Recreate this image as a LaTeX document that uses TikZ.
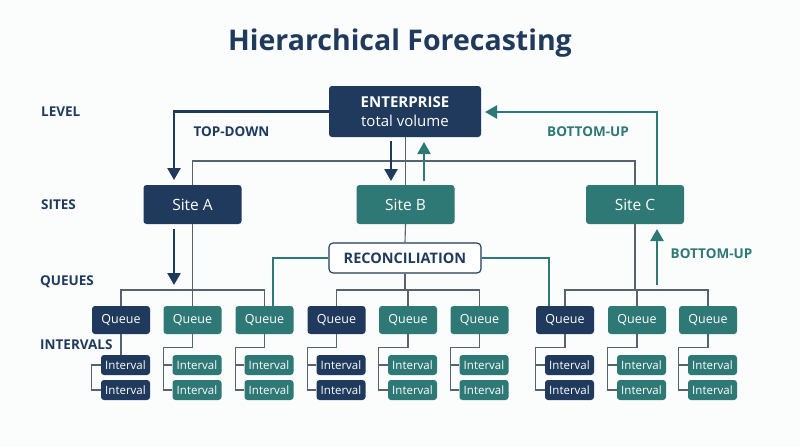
\documentclass[tikz,border=0pt]{standalone}
\usepackage{fontspec}
\setmainfont{Open Sans}
\usetikzlibrary{arrows.meta,calc}
\definecolor{navy}{HTML}{1F3A5C}
\definecolor{teal}{HTML}{2E7876}
\definecolor{wire}{HTML}{56636F}
\definecolor{bg}{HTML}{FBFCFC}
\tikzset{
  box/.style={rounded corners=3pt, text=white, inner sep=0pt, align=center},
  navybox/.style={box, fill=navy},
  tealbox/.style={box, fill=teal},
  sitebox/.style={minimum width=98pt, minimum height=39pt, font=\fontsize{15.5}{17}\selectfont},
  queuebox/.style={minimum width=58pt, minimum height=28pt, font=\fontsize{12.5}{14}\selectfont},
  intbox/.style={minimum width=49pt, minimum height=20pt, font=\fontsize{11.5}{13}\selectfont},
  lvl/.style={anchor=west, inner sep=0pt, text=navy, font=\bfseries\fontsize{13.5}{16}\selectfont},
  dirlabel/.style={font=\bfseries\fontsize{13.5}{16}\selectfont},
  wireline/.style={draw=wire, line width=1.1pt},
  bigarrow/.style={line width=2.4pt, -{Triangle[width=13pt,length=12pt]}},
}
\begin{document}
\begin{tikzpicture}[x=1pt,y=-1pt]
\fill[bg] (0,0) rectangle (800,447);
\useasboundingbox (0,0) rectangle (800,447);

\node[text=navy, font=\bfseries\fontsize{28.5}{34}\selectfont] (title) at (400,43) {Hierarchical Forecasting};

\node[lvl] (lLevel) at (41,112) {LEVEL};
\node[lvl] (lSites) at (41,205) {SITES};
\node[lvl] (lQueues) at (40,282) {QUEUES};
\node[lvl] (lInt) at (40,345) {INTERVALS};

% main nodes
\node[navybox, minimum width=152pt, minimum height=51pt, font=\fontsize{15}{19}\selectfont] (ent) at (405,111.5)
  {\textbf{ENTERPRISE}\\total volume};
\node[navybox, sitebox] (sA) at (192.5,204.5) {Site A};
\node[tealbox, sitebox] (sB) at (405.5,204.5) {Site B};
\node[tealbox, sitebox] (sC) at (635,204.5) {Site C};
\node[draw=navy, line width=1.1pt, fill=white, rounded corners=4pt, minimum width=152pt, minimum height=30pt, text=navy,
  font=\bfseries\fontsize{14.5}{17}\selectfont] (rec) at (405,258) {RECONCILIATION};

% queues and intervals
\foreach \i/\x/\c in {1/121/navy,2/192.5/teal,3/264.5/teal,4/336.5/navy,5/408/teal,6/479.5/teal,7/565/navy,8/637/teal,9/708/teal}{
  \node[box, fill=\c, queuebox] (q\i) at (\x,320) {Queue};
  \node[box, fill=\c, intbox] (i\i a) at (\x+4.5,365) {Interval};
  \node[box, fill=\c, intbox] (i\i b) at (\x+4.5,390) {Interval};
}

% interval connectors
\draw[wireline] (q1.south) -- (q1.south |- i1a.north);
\draw[wireline] (i1a.west) -- ++(-9,0) |- (i1b.west);
\foreach \i in {2,...,9}{
  \coordinate (b\i) at ($(q\i.south west)+(0,13)$);
  \draw[wireline] (q\i.south) |- (b\i) |- (i\i b.west);
  \draw[wireline] (b\i |- i\i a.west) -- (i\i a.west);
}

% site tree
\coordinate (hub) at (405.5,161);
\draw[wireline] (ent.south -| hub) -- (sB.north);
\draw[wireline] (sA.north) |- (hub) -| (sC.north);

% queue trees
\coordinate (ya) at (0,290);
\draw[wireline] (sA.south) -- (sA.south |- ya);
\draw[wireline] (q1.north) |- (sA.south |- ya) -| (q3.north);
\draw[wireline] (q2.north) -- (q2.north |- ya);
\draw[wireline] (sB.south) -- (rec.north);
\draw[wireline] (rec.south) -- (rec.south |- ya);
\draw[wireline] (q4.north) |- (rec.south |- ya) -| (q6.north);
\draw[wireline] (q5.north) -- (q5.north |- ya);
\draw[wireline] (sC.south) -- (sC.south |- ya);
\draw[wireline] (q7.north) |- (sC.south |- ya) -| (q9.north);
\draw[wireline] (q8.north) -- (q8.north |- ya);

% reconciliation teal links
\draw[draw=teal, line width=1.3pt] (rec.west) -| ([xshift=8.5pt]q3.north);
\draw[draw=teal, line width=1.3pt] (rec.east) -| ([xshift=-16pt]q7.north);

% direction arrows
\coordinate (tdTip) at (174,180);
\draw[bigarrow, navy] (ent.west) -| (tdTip);
\node[dirlabel, text=navy] (tdLab) at (231.5,132) {TOP-DOWN};

\coordinate (entDownS) at (391,141);
\coordinate (entDownE) at (391,181);
\draw[bigarrow, navy] (entDownS) -- (entDownE);
\coordinate (entUpS) at (424,181);
\coordinate (entUpE) at (424,142);
\draw[bigarrow, teal] (entUpS) -- (entUpE);

\coordinate (buStart) at (657,185);
\coordinate (buEnd) at (485,112);
\draw[bigarrow, teal] (buStart) |- (buEnd);
\node[dirlabel, text=teal] (buLab) at (588,132) {BOTTOM-UP};

\coordinate (sAdS) at (174,229);
\coordinate (sAdE) at (174,285);
\draw[bigarrow, navy] (sAdS) -- (sAdE);

\coordinate (sCuS) at (657,285);
\coordinate (sCuE) at (657,229);
\draw[bigarrow, teal] (sCuS) -- (sCuE);
\node[dirlabel, text=teal] (buLab2) at (711.5,254) {BOTTOM-UP};
\end{tikzpicture}
\end{document}
